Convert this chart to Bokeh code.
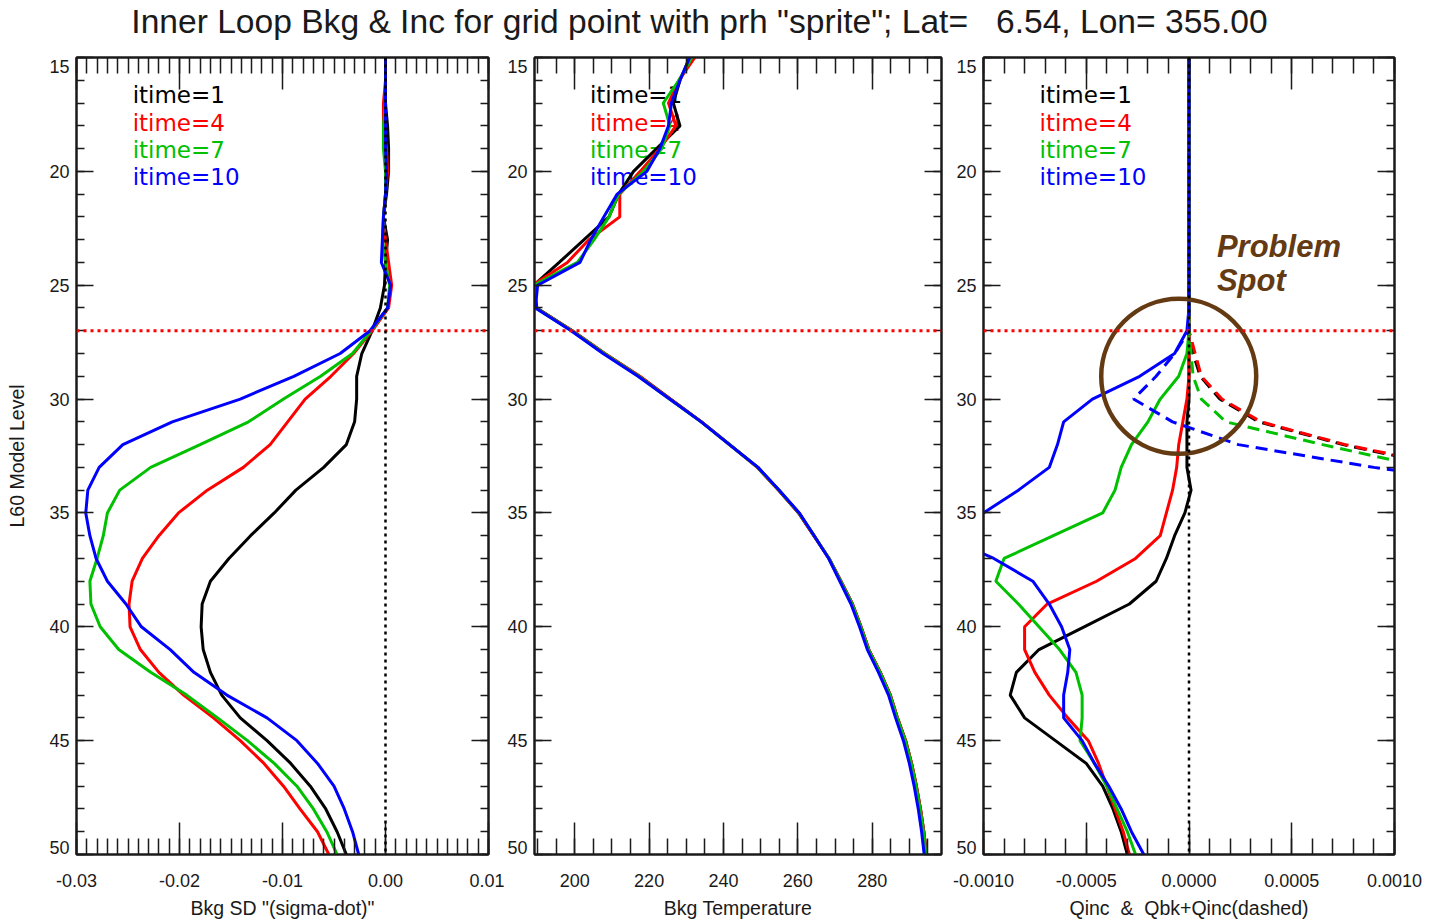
from bokeh.plotting import figure
from bokeh.layouts import column, row
from bokeh.models import Range1d, FixedTicker, LinearAxis, Span, PrintfTickFormatter
from bokeh.core.properties import value
from bokeh.embed import file_html
from bokeh.resources import INLINE

# ---------------------------------------------------------------- data
levels = list(range(15, 51))            # L60 model levels 15..50
qsum_levels = list(range(15, 35))       # levels of the Qbk+Qinc profiles

itime_labels = ["itime=1", "itime=4", "itime=7", "itime=10"]
itime_colors = ["#000000", "#ff0000", "#00c000", "#0000ff"]

# Background SD of sigma-dot
sd_it1 = [0.0, 0.0, 0.0, 0.0002, 0.0003, 0.0003, 0.0001, -0.0002, 0.0002, 0.0, -0.0001, -0.0005,
          -0.0013, -0.0023, -0.0028, -0.0028, -0.0030, -0.0038, -0.0060, -0.0087, -0.0108, -0.0131,
          -0.0152, -0.0170, -0.0178, -0.0179, -0.0177, -0.0170, -0.0159, -0.0141, -0.0115, -0.0092,
          -0.0073, -0.0058, -0.0047, -0.0038]
sd_it4 = [0.0, 0.0, -0.0002, -0.0002, 0.0001, 0.0002, 0.0, -0.0002, 0.0, 0.0003, 0.0006, 0.0003,
          -0.0013, -0.0031, -0.0053, -0.0078, -0.0095, -0.0112, -0.0138, -0.0173, -0.0201, -0.0220,
          -0.0236, -0.0246, -0.0249, -0.0248, -0.0238, -0.0220, -0.0196, -0.0167, -0.0141, -0.0118,
          -0.0099, -0.0083, -0.0066, -0.0055]
sd_it7 = [0.0, 0.0, 0.0, -0.0002, -0.0002, 0.0, 0.0, -0.0002, -0.0003, 0.0, 0.0004, 0.0002,
          -0.0014, -0.0032, -0.0063, -0.0099, -0.0133, -0.0180, -0.0228, -0.0258, -0.0270, -0.0274,
          -0.0280, -0.0287, -0.0286, -0.0277, -0.0259, -0.0228, -0.0193, -0.0163, -0.0134, -0.0108,
          -0.0086, -0.0070, -0.0057, -0.0047]
sd_it10 = [0.0, 0.0, 0.0, 0.0, 0.0, 0.0001, 0.0, -0.0002, -0.0003, -0.0004, 0.0005, 0.0002,
           -0.0015, -0.0044, -0.0089, -0.0141, -0.0207, -0.0255, -0.0278, -0.0289, -0.0291, -0.0287,
           -0.0281, -0.0270, -0.0252, -0.0237, -0.0209, -0.0186, -0.0154, -0.0115, -0.0086, -0.0066,
           -0.0050, -0.0040, -0.0032, -0.0026]

# Background temperature (K)
t_it1 = [230.9, 228.3, 226.5, 228.3, 222.0, 215.8, 211.8, 209.2, 202.5, 195.8, 189.0, 189.8,
         199.3, 208.0, 217.4, 225.7, 234.1, 241.7, 249.2, 254.9, 260.2, 264.3, 268.4, 271.6,
         274.7, 277.0, 279.1, 282.2, 284.9, 286.8, 289.0, 290.6, 291.9, 293.0, 293.9, 294.6]
t_it4 = [232.3, 228.0, 225.2, 227.2, 222.9, 217.6, 212.1, 212.1, 203.8, 198.0, 188.7, 189.6,
         199.4, 208.1, 217.5, 225.7, 234.1, 241.6, 249.1, 254.8, 260.2, 264.3, 268.4, 271.6,
         274.7, 277.0, 279.1, 282.2, 284.9, 286.8, 289.0, 290.6, 291.9, 293.0, 293.9, 294.6]
t_it7 = [231.5, 228.0, 223.8, 225.6, 223.4, 218.5, 211.8, 209.2, 205.2, 200.7, 189.0, 189.5,
         199.2, 207.9, 217.2, 225.5, 234.0, 241.6, 249.2, 254.9, 260.3, 264.4, 268.4, 271.5,
         274.6, 276.9, 279.0, 282.1, 284.8, 286.7, 288.9, 290.5, 291.8, 292.9, 293.8, 294.5]
t_it10 = [230.9, 228.3, 226.0, 225.2, 222.9, 219.4, 211.4, 207.8, 204.3, 201.4, 190.0, 189.4,
          199.0, 207.6, 217.0, 225.5, 234.0, 241.6, 249.3, 255.0, 260.4, 264.4, 268.3, 271.3,
          274.3, 276.6, 278.7, 281.7, 284.4, 286.3, 288.4, 290.0, 291.3, 292.4, 293.3, 294.0]

# Humidity increment Qinc
qinc_it1 = [0.0] * 13 + [0.0, 0.0, 0.0, -0.00001, -0.00001, -0.00001, 0.00001, -0.00002, -0.00007,
                         -0.00011, -0.00016, -0.00029, -0.00051, -0.00073, -0.00084, -0.00087,
                         -0.00080, -0.00065, -0.00050, -0.00042, -0.00037, -0.00033, -0.00030]
qinc_it4 = [0.0] * 13 + [0.0, 0.0, -0.00001, -0.00003, -0.00005, -0.00006, -0.00008, -0.00011,
                         -0.00014, -0.00026, -0.00045, -0.00069, -0.00080, -0.00080, -0.00075,
                         -0.00068, -0.00059, -0.00049, -0.00044, -0.00040, -0.00036, -0.00032,
                         -0.00029]
qinc_it7 = [0.0] * 13 + [-0.00001, -0.00005, -0.00014, -0.00020, -0.00028, -0.00033, -0.00036,
                         -0.00042, -0.00066, -0.00090, -0.00094, -0.00083, -0.00073, -0.00063,
                         -0.00055, -0.00052, -0.00052, -0.00053, -0.00046, -0.00040, -0.00035,
                         -0.00030, -0.00026]
qinc_it10 = [0.0] * 12 + [-0.00001, -0.00007, -0.00024, -0.00047, -0.00061, -0.00064, -0.00068,
                          -0.00083, -0.00100, -0.00120, -0.00095, -0.00076, -0.00068, -0.00062,
                          -0.00058, -0.00059, -0.00061, -0.00061, -0.00052, -0.00046, -0.00039,
                          -0.00033, -0.00028, -0.00022]

# Qbk + Qinc (dashed)
qsum_it1 = [0.0] * 13 + [0.00002, 0.000055, 0.00015, 0.00034, 0.00075, 0.00127, 0.0020]
qsum_it4 = [0.0] * 13 + [0.00003, 0.00006, 0.00016, 0.00035, 0.00076, 0.00129, 0.0021]
qsum_it7 = [0.0] * 13 + [0.00001, 0.00002, 0.00006, 0.00018, 0.00065, 0.00115, 0.0019]
qsum_it10 = [0.0] * 13 + [-0.00007, -0.00016, -0.00027, -0.00008, 0.00024, 0.00090, 0.0017]

sd_series = [sd_it1, sd_it4, sd_it7, sd_it10]
t_series = [t_it1, t_it4, t_it7, t_it10]
qinc_series = [qinc_it1, qinc_it4, qinc_it7, qinc_it10]
qsum_series = [qsum_it1, qsum_it4, qsum_it7, qsum_it10]

problem_level = 27                      # dotted red reference level
spot_center = (-0.00005, 29.0)          # centre of the "Problem Spot" ring

level_ticks = [15, 20, 25, 30, 35, 40, 45, 50]
level_minor = list(range(15, 51))
# label anchors: the end labels sit just inside the frame
level_label_pos = [15.4, 20, 25, 30, 35, 40, 45, 49.7]
sd_ticks = [-0.03, -0.02, -0.01, 0.0, 0.01]
sd_minor = [round(-0.03 + 0.001 * i, 4) for i in range(41)]
t_ticks = [200, 220, 240, 260, 280]
t_minor = [190 + 5 * i for i in range(22)]
q_ticks = [-0.001, -0.0005, 0.0, 0.0005, 0.001]
q_minor = [round(-0.001 + 0.0001 * i, 5) for i in range(21)]

NB = "\u00a0"   # keeps repeated blanks from collapsing in SVG text
title_text = ('Inner Loop Bkg & Inc for grid point with prh "sprite"; Lat=' + NB * 2 +
              ' 6.54, Lon= 355.00')
q_label = "Qinc" + NB + " &" + NB + " Qbk+Qinc(dashed)"

# ---------------------------------------------------------------- styling
AXIS = "#1a1a1a"
FONT = "Liberation Sans"
ROW_H = 877
FRAME_H = 797
BORDER_TOP = 12
BORDER_BOTTOM = 68


def style_axis(ax, major_len, minor_len, labels=True):
    ax.axis_line_color = AXIS
    ax.axis_line_width = 2
    ax.major_tick_line_color = AXIS
    ax.minor_tick_line_color = AXIS
    ax.major_tick_line_width = 1.5
    ax.minor_tick_line_width = 1.5
    ax.major_tick_in = major_len
    ax.major_tick_out = 0
    ax.minor_tick_in = minor_len
    ax.minor_tick_out = 0
    if labels:
        ax.major_label_text_font = FONT
        ax.major_label_text_font_size = "18px"
        ax.major_label_text_color = AXIS
        ax.axis_label_text_font = FONT
        ax.axis_label_text_font_size = "19.5px"
        ax.axis_label_text_font_style = "normal"
        ax.axis_label_text_color = AXIS
    else:
        # tick marks only
        ax.major_label_text_color = None
        ax.major_label_text_font_size = "0px"
        ax.major_label_standoff = 0


def make_panel(width, left, right, xr, xticks, xminor, xfmt, xlabel, ylabel=None):
    p = figure(width=width, height=ROW_H, x_range=Range1d(*xr), y_range=Range1d(50, 15),
               output_backend="svg", toolbar_location=None,
               x_axis_location=None, y_axis_location=None,
               min_border_left=left, min_border_right=right,
               min_border_top=BORDER_TOP, min_border_bottom=BORDER_BOTTOM)
    p.grid.visible = False
    p.outline_line_color = AXIS
    p.outline_line_width = 2
    p.background_fill_color = "white"
    p.border_fill_color = "white"

    xt = FixedTicker(ticks=xticks, minor_ticks=xminor)
    yt = FixedTicker(ticks=level_ticks, minor_ticks=level_minor)

    bottom = LinearAxis(ticker=xt, formatter=PrintfTickFormatter(format=xfmt), axis_label=xlabel)
    style_axis(bottom, 32, 16)
    bottom.major_label_standoff = 19
    bottom.axis_label_standoff = 7
    p.add_layout(bottom, "below")

    top = LinearAxis(ticker=xt)
    style_axis(top, 32, 16, labels=False)
    p.add_layout(top, "above")

    # left: tick marks next to the frame, labels on a second axis just outside
    lticks = LinearAxis(ticker=yt)
    style_axis(lticks, 17, 8, labels=False)
    p.add_layout(lticks, "left")

    llabels = LinearAxis(ticker=FixedTicker(ticks=level_label_pos, minor_ticks=[]),
                         formatter=PrintfTickFormatter(format="%.0f"), axis_label=ylabel)
    style_axis(llabels, 0, 0)
    llabels.axis_line_color = None
    llabels.major_tick_line_color = None
    llabels.minor_tick_line_color = None
    llabels.major_label_standoff = 7
    llabels.axis_label_standoff = 18
    p.add_layout(llabels, "left")

    rgt = LinearAxis(ticker=yt)
    style_axis(rgt, 17, 8, labels=False)
    p.add_layout(rgt, "right")
    return p


def add_legend(p, xr):
    # four coloured labels in the upper-left corner, under the profiles
    x0 = xr[0] + (56.0 / 411.0) * (xr[1] - xr[0])
    ys = [15 + off * 35.0 / FRAME_H for off in (37.7, 65.0, 92.3, 119.6)]
    p.text(x=[x0] * 4, y=ys, text=itime_labels, text_color=itime_colors,
           text_font=value("DejaVu Sans"), text_font_size="23px",
           text_align="left", text_baseline="middle")


def add_refs(p, zero_line=True):
    p.add_layout(Span(location=problem_level, dimension="width", line_color="#ff0000",
                      line_dash="3 4", line_width=3))
    if zero_line:
        p.add_layout(Span(location=0, dimension="height", line_color="#000000",
                          line_dash="3 4", line_width=2.5))


# ---------------------------------------------------------------- panel 1: Bkg SD
sd_range = (-0.03, 0.01)
p1 = make_panel(504, 76, 16, sd_range, sd_ticks, sd_minor, "%.2f",
                'Bkg SD "(sigma-dot)"', "L60 Model Level")
add_legend(p1, sd_range)
for vals, col in zip(sd_series, itime_colors):
    p1.line(vals, levels, line_color=col, line_width=3)
add_refs(p1)

# ---------------------------------------------------------------- panel 2: Bkg temperature
t_range = (189.16, 298.65)
p2 = make_panel(446, 26, 9, t_range, t_ticks, t_minor, "%d", "Bkg Temperature")
add_legend(p2, t_range)
for vals, col in zip(t_series, itime_colors):
    p2.line(vals, levels, line_color=col, line_width=3)
add_refs(p2, zero_line=False)

# ---------------------------------------------------------------- panel 3: Qinc and Qbk+Qinc
q_range = (-0.001, 0.001)
p3 = make_panel(481, 33, 37, q_range, q_ticks, q_minor, "%.4f", q_label)
add_legend(p3, q_range)
for vals, col in zip(qinc_series, itime_colors):
    p3.line(vals, levels, line_color=col, line_width=3)
for vals, col in zip(qsum_series, itime_colors):
    p3.line(vals, qsum_levels, line_color=col, line_width=3, line_dash="12 7")
add_refs(p3)

BROWN = "#643a12"
p3.scatter(x=[spot_center[0]], y=[spot_center[1]], marker="circle", size=155,
           fill_color=None, line_color=BROWN, line_width=4.5)
p3.text(x=[0.000136, 0.000136], y=[23.30, 24.79], text=["Problem", "Spot"],
        text_color=BROWN, text_font=value(FONT), text_font_size="31px",
        text_font_style="bold italic", text_align="left", text_baseline="middle")

# ---------------------------------------------------------------- title strip
tfig = figure(width=1431, height=45, x_range=Range1d(0, 1431), y_range=Range1d(0, 45),
              output_backend="svg", toolbar_location=None,
              x_axis_location=None, y_axis_location=None, min_border=0)
tfig.grid.visible = False
tfig.outline_line_color = None
tfig.text(x=[699], y=[23.8], text=[title_text], text_color=AXIS, text_font=value(FONT),
          text_font_size="33.6px", text_align="center", text_baseline="middle")

layout = column(tfig, row(p1, p2, p3))
open("out.html", "w").write(file_html(layout, INLINE, title="Inner Loop Bkg & Inc"))
